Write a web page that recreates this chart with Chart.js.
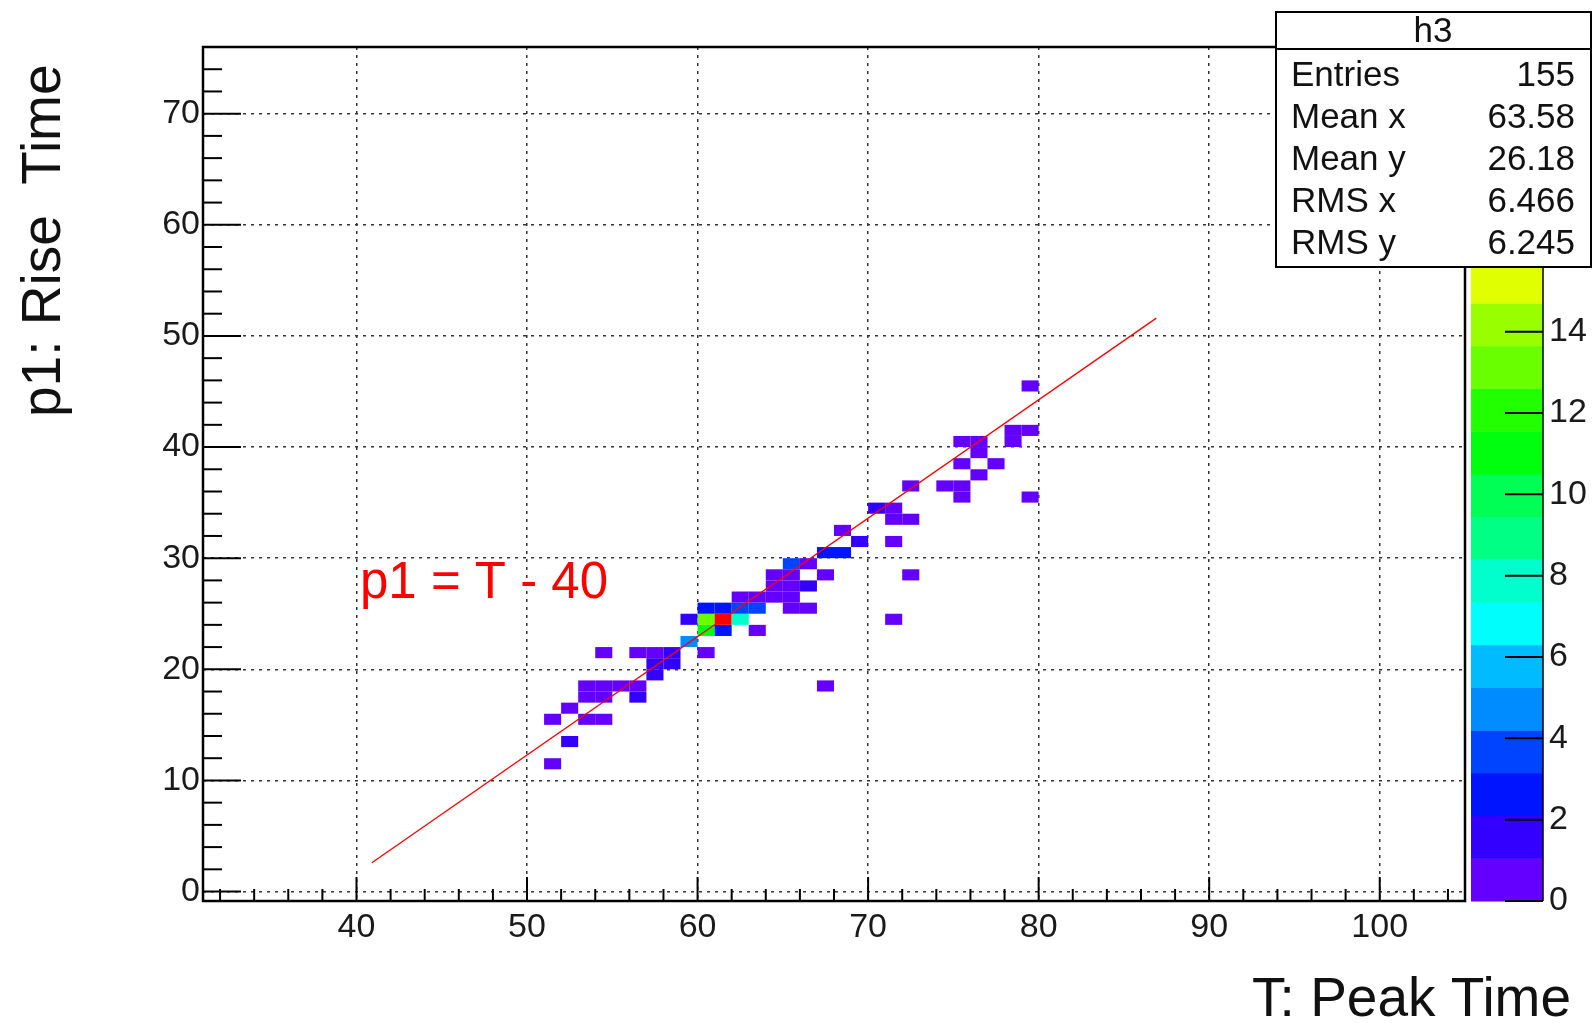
<!DOCTYPE html>
<html>
<head>
<meta charset="utf-8">
<script src="https://cdn.jsdelivr.net/npm/chart.js@4.4.1/dist/chart.umd.min.js"></script>
<style>
  html, body { margin: 0; padding: 0; background: #fff; }
  #wrap { width: 1594px; height: 1023px; }
</style>
</head>
<body>
<div id="wrap"><canvas id="h3" width="1594" height="1023"></canvas></div>
<script>
// h3 bins: lower edge in T, lower edge in p1, entries
const cellT = [51, 52, 51, 53, 54, 52, 53, 54, 56, 53, 54, 55, 56, 67, 57, 57, 58,
  54, 56, 57, 58, 60, 59, 60, 61, 63, 59, 60, 61, 62, 71, 60, 61, 62, 63, 65, 66,
  62, 63, 64, 65, 64, 65, 66, 64, 65, 67, 72, 65, 66, 67, 68, 69, 71, 68, 71, 72,
  70, 71, 75, 79, 72, 74, 75, 76, 75, 77, 76, 75, 76, 78, 78, 79, 79];
const cellP1 = [11, 13, 15, 15, 15, 16, 17, 17, 17, 18, 18, 18, 18, 18, 19, 20, 20,
  21, 21, 21, 21, 21, 22, 23, 23, 23, 24, 24, 24, 24, 24, 25, 25, 25, 25, 25, 25,
  26, 26, 26, 26, 27, 27, 27, 28, 28, 28, 28, 29, 29, 30, 30, 31, 31, 32, 33, 33,
  34, 34, 35, 35, 36, 36, 36, 37, 38, 38, 39, 40, 40, 40, 41, 41, 45];
const cellCount = [1, 2, 1, 1, 1, 1, 1, 1, 2, 1, 1, 1, 1, 1, 2, 2, 2,
  1, 1, 1, 2, 1, 5, 11, 3, 1, 2, 13, 20, 8, 1, 3, 3, 4, 4, 1, 1,
  1, 1, 1, 1, 1, 1, 2, 1, 1, 1, 1, 4, 1, 3, 3, 2, 1, 1, 1, 1,
  2, 1, 1, 1, 1, 1, 1, 1, 1, 1, 1, 1, 1, 1, 1, 1, 1];

const xTicks = [40, 50, 60, 70, 80, 90, 100];
const yTicks = [0, 10, 20, 30, 40, 50, 60, 70];
const zTicks = [0, 2, 4, 6, 8, 10, 12, 14, 16, 18, 20];

// red line p1 = T - 40
const fitT = [40.9, 86.9];
const fitP1 = [2.6, 51.6];

const statNames = ['Entries', 'Mean x', 'Mean y', 'RMS x', 'RMS y'];
const statValues = ['155', '63.58', '26.18', '6.466', '6.245'];

const zMax = 21;
const nLevels = 20;
const FONT = '"Liberation Sans", Arial, Helvetica, sans-serif';

// old ROOT "pretty" palette, 50 colours, 20 contours
function levelColor(j) {
  const ci = Math.floor((j + 0.99) * 50 / nLevels);
  const hue = 280 - (ci + 1) * 5.6;
  return 'hsl(' + hue + ',100%,50%)';
}

const cells = cellT.map((t, i) => ({ x: t, y: cellP1[i], v: cellCount[i] }));
const fitLine = fitT.map((t, i) => ({ x: t, y: fitP1[i] }));

function line(ctx, x0, y0, x1, y1) {
  ctx.beginPath(); ctx.moveTo(x0, y0); ctx.lineTo(x1, y1); ctx.stroke();
}

const rootLook = {
  id: 'rootLook',
  beforeDatasetsDraw(chart) {
    const { ctx, chartArea: a, scales: { x, y } } = chart;
    ctx.save();
    ctx.beginPath(); ctx.rect(a.left, a.top, a.right - a.left, a.bottom - a.top); ctx.clip();
    chart.data.datasets[0].data.forEach(c => {
      const x0 = x.getPixelForValue(c.x), x1 = x.getPixelForValue(c.x + 1);
      const y0 = y.getPixelForValue(c.y + 1), y1 = y.getPixelForValue(c.y);
      const lev = Math.min(nLevels - 1, Math.floor(c.v / (zMax / nLevels)));
      ctx.fillStyle = levelColor(lev);
      ctx.fillRect(x0, y0, x1 - x0, y1 - y0);
    });
    ctx.restore();
  },
  afterDatasetsDraw(chart) {
    const { ctx, chartArea: a, scales: { x, y } } = chart;
    ctx.save();
    ctx.strokeStyle = '#000';
    ctx.lineWidth = 2;
    for (let v = 32; v <= 104; v += 2) {
      const px = x.getPixelForValue(v);
      line(ctx, px, a.bottom, px, a.bottom - (v % 10 === 0 ? 24 : 12));
    }
    for (let v = 0; v <= 74; v += 2) {
      const py = y.getPixelForValue(v);
      line(ctx, a.left, py, a.left + (v % 10 === 0 ? 38 : 19), py);
    }
    ctx.lineWidth = 2.5;
    ctx.strokeRect(a.left, a.top, a.right - a.left, a.bottom - a.top);
    ctx.restore();
  },
  afterDraw(chart) {
    const { ctx, scales: { z } } = chart;
    ctx.save();
    // colour palette axis
    const bx0 = z.left + 6, bx1 = z.left + 78;
    const dz = zMax / nLevels;
    for (let j = 0; j < nLevels; j++) {
      const yb = z.getPixelForValue(j * dz), yt = z.getPixelForValue((j + 1) * dz);
      ctx.fillStyle = levelColor(j);
      ctx.fillRect(bx0, yt, bx1 - bx0, yb - yt + 0.5);
    }
    ctx.strokeStyle = '#000';
    ctx.lineWidth = 2;
    zTicks.forEach(v => {
      const py = z.getPixelForValue(v);
      line(ctx, bx0 + 34, py, bx1, py);
    });
    ctx.lineWidth = 1.5;
    line(ctx, bx1, z.top, bx1, z.bottom);

    // stats box
    ctx.fillStyle = '#fff';
    ctx.fillRect(1276, 12, 315, 255);
    ctx.lineWidth = 2;
    ctx.strokeStyle = '#000';
    ctx.strokeRect(1276, 12, 315, 255);
    line(ctx, 1276, 49, 1591, 49);
    ctx.fillStyle = '#111';
    ctx.font = '35px ' + FONT;
    ctx.textBaseline = 'middle';
    ctx.textAlign = 'center';
    ctx.fillText('h3', 1433, 32);
    const rowY = [76, 118, 160, 202, 244];
    statNames.forEach((n, i) => {
      ctx.textAlign = 'left';
      ctx.fillText(n, 1291, rowY[i]);
      ctx.textAlign = 'right';
      ctx.fillText(statValues[i], 1575, rowY[i]);
    });

    // axis titles
    ctx.font = '55px ' + FONT;
    ctx.textBaseline = 'alphabetic';
    ctx.textAlign = 'right';
    ctx.fillText('T: Peak Time', 1571, 1016);
    ctx.save();
    ctx.translate(60, 417);
    ctx.rotate(-Math.PI / 2);
    ctx.textAlign = 'left';
    ctx.fillText('p1: Rise  Time', 0, 0);
    ctx.restore();

    // line label
    ctx.fillStyle = '#ff0000';
    ctx.font = '51px ' + FONT;
    ctx.textAlign = 'left';
    ctx.fillText('p1 = T - 40', 360, 598);
    ctx.restore();
  }
};

const tickFont = { family: FONT, size: 34 };

// keep the frame where ROOT put it: drop the label overflow padding
function fixBox(s, w, h) {
  if (w) s.width = w;
  if (h) s.height = h;
  s.paddingTop = 0; s.paddingBottom = 0; s.paddingLeft = 0; s.paddingRight = 0;
}

new Chart(document.getElementById('h3'), {
  type: 'scatter',
  data: {
    datasets: [
      { data: cells, pointRadius: 0, showLine: false },
      { data: fitLine, showLine: true, borderColor: '#ff0000', borderWidth: 1.3, pointRadius: 0 }
    ]
  },
  options: {
    responsive: false,
    animation: false,
    devicePixelRatio: 1,
    layout: { autoPadding: false, padding: { top: 47, left: 0, right: 0, bottom: 0 } },
    plugins: { legend: { display: false }, tooltip: { enabled: false } },
    scales: {
      x: {
        type: 'linear', min: 31, max: 105,
        afterFit: s => fixBox(s, 0, 122),
        afterBuildTicks: s => { s.ticks = xTicks.map(v => ({ value: v })); },
        grid: { color: '#333', lineWidth: 1.5, drawTicks: false },
        border: { display: false, dash: [3, 5] },
        ticks: { font: tickFont, color: '#1a1a1a', padding: 6, maxRotation: 0, autoSkip: false }
      },
      y: {
        type: 'linear', min: -0.85, max: 76,
        afterFit: s => fixBox(s, 203, 0),
        afterBuildTicks: s => { s.ticks = yTicks.map(v => ({ value: v })); },
        grid: { color: '#333', lineWidth: 1.5, drawTicks: false },
        border: { display: false, dash: [3, 5] },
        ticks: { font: tickFont, color: '#1a1a1a', padding: 3, autoSkip: false }
      },
      z: {
        type: 'linear', position: 'right', min: 0, max: zMax,
        afterFit: s => fixBox(s, 129, 0),
        afterBuildTicks: s => { s.ticks = zTicks.map(v => ({ value: v })); },
        grid: { display: false, drawTicks: false },
        border: { display: false },
        ticks: { font: tickFont, color: '#1a1a1a', padding: 84, autoSkip: false }
      }
    }
  },
  plugins: [rootLook]
});
</script>
</body>
</html>
